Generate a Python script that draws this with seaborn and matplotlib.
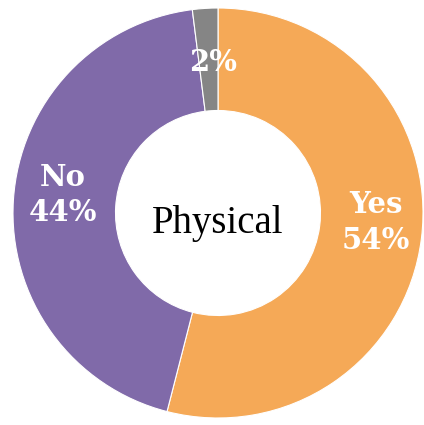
import matplotlib
matplotlib.use("Agg")
import matplotlib.pyplot as plt
import seaborn as sns
import numpy as np

sns.set_theme(style="white")
plt.rcParams["font.family"] = ["DejaVu Serif"]

categories = ["Yes", "No", ""]
values = [54, 44, 2]
colors = ["#F5A957", "#806AA9", "#858585"]
center_label = "Physical"

fig = plt.figure(figsize=(4.24, 4.25), dpi=100)
ax = fig.add_axes([0, 0, 1, 1])

wedges, _ = ax.pie(
    values,
    colors=colors,
    startangle=90,
    counterclock=False,
    radius=1.0,
    wedgeprops=dict(width=0.5, edgecolor="white", linewidth=0.8),
)

# value labels inside each ring segment, nudged slightly from the mid-angle
nudges = [(0.015, 0.05), (0.0, 0.04), (0.024, -0.025)]
total = sum(values)
cum = 0
for i, (cat, v) in enumerate(zip(categories, values)):
    mid = 90 - (cum + v / 2) / total * 360
    cum += v
    r = 0.76
    x = r * np.cos(np.radians(mid)) + nudges[i][0]
    y = r * np.sin(np.radians(mid)) + nudges[i][1]
    text = f"{cat}\n{v}%" if cat else f"{v}%"
    ax.text(x, y, text, ha="center", va="center", color="white",
            fontsize=21, fontweight="bold", linespacing=1.3,
            family=["DejaVu Serif"])

ax.text(0, -0.05, center_label, ha="center", va="center", color="black",
        fontsize=28, family=["Liberation Serif"])

ax.set_xlim(-218 / 205, (424 - 218) / 205)
ax.set_ylim(-(425 - 213) / 205, 213 / 205)
ax.set_aspect("equal")
ax.axis("off")

fig.savefig("out.png", dpi=100)
